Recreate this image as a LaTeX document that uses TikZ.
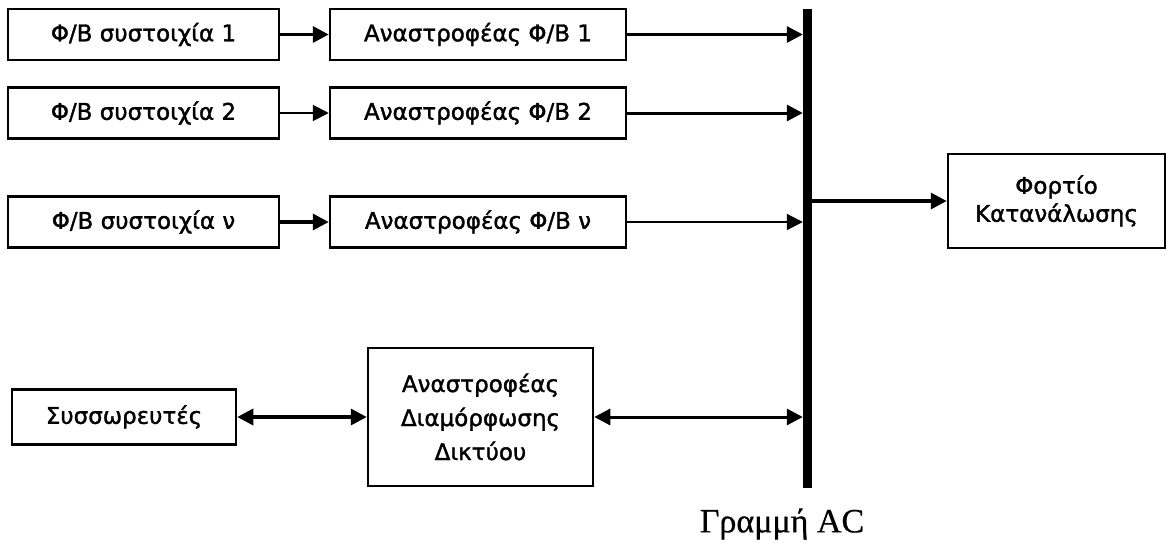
\documentclass[tikz,border=0pt]{standalone}
\usepackage{fontspec}
\setmainfont{DejaVu Sans}
\newfontfamily\boxfont{DejaVu Sans}[FakeBold=1.5]
\newfontfamily\serifgr{Liberation Serif}[FakeBold=0.6]
\usetikzlibrary{arrows.meta}
\newcommand{\ArrTip}{Triangle[length=16,width=16]}
\tikzset{blk/.style={draw,rectangle,line width=2.5pt,inner sep=0pt,align=center,font=\boxfont\fontsize{23}{28}\selectfont}}
\tikzset{thk/.style={line width=3.5pt,-{\ArrTip}}}
\tikzset{thn/.style={line width=2pt,-{\ArrTip}}}
\tikzset{bth/.style={line width=3.5pt,{\ArrTip}-{\ArrTip}}}

\begin{document}
\begin{tikzpicture}[x=1pt,y=-1pt]
\useasboundingbox(0,0)rectangle(1168,547);
\begin{scope}[every node/.style={blk,minimum height=51}]
\node(pa1)[minimum width=271]at(143.5,34.5){Φ/B συστοιχία 1};
\node(pa2)[minimum width=271]at(143.5,113){Φ/B συστοιχία 2};
\node(pav)[minimum width=271]at(143.5,222){Φ/B συστοιχία ν};
\node(in1)[minimum width=296]at(478,34.5){Αναστροφέας Φ/B 1};
\node(in2)[minimum width=296]at(478,113){Αναστροφέας Φ/B 2};
\node(inv)[minimum width=296]at(478,222){Αναστροφέας Φ/B ν};
\node(bat)[minimum width=224,minimum height=55]at(124,417){Συσσωρευτές};
\end{scope}
\node(ld)[blk,minimum width=217,minimum height=94]at(1056.5,201){Φορτίο\\Κατανάλωσης};
\node(gi)[blk,minimum width=225,minimum height=138,font=\boxfont\fontsize{23}{34}\selectfont]at(480.5,417){Αναστροφέας\\Διαμόρφωσης\\Δικτύου};
\node(bus)[fill,inner sep=0pt,minimum width=9,minimum height=479]at(807.5,248.5){};
\node(ac)[font=\serifgr\fontsize{34}{40}\selectfont]at(782,524){Γραμμή AC};
\draw[thk](pa1)--(in1);\draw[thn](pa2)--(in2);\draw[thk](pav)--(inv);
\draw[line width=3pt,-{\ArrTip}](in1.east)--(in1.east-|bus.west);
\draw[line width=3pt,-{\ArrTip}](in2.east)--(in2.east-|bus.west);
\draw[thn](inv.east)--(inv.east-|bus.west);
\draw[thk](ld.west-|bus.east)--(ld.west);
\draw[bth](bat)--(gi);
\draw[line width=3pt,{\ArrTip}-{\ArrTip}](gi.east)--(gi.east-|bus.west);
\end{tikzpicture}
\end{document}
